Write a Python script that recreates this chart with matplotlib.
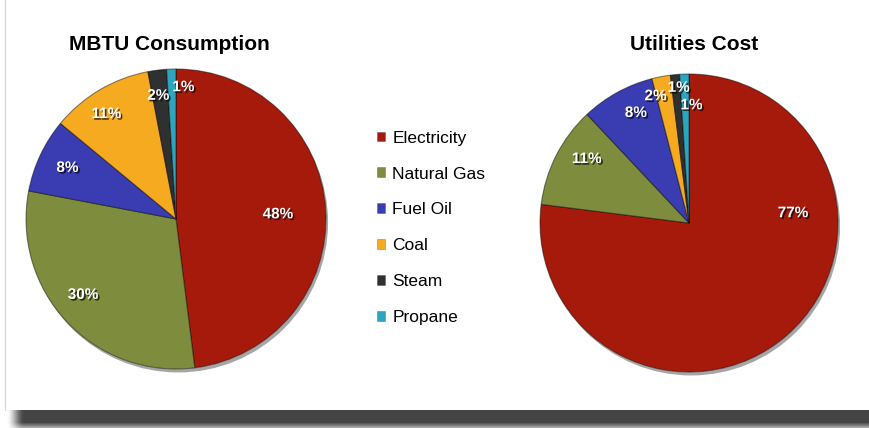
import matplotlib.pyplot as plt
import matplotlib.patheffects as pe
from matplotlib.patches import Circle
import numpy as np

plt.rcParams['font.family'] = ['Liberation Sans', 'DejaVu Sans']

# data
sources = ['Electricity', 'Natural Gas', 'Fuel Oil', 'Coal', 'Steam', 'Propane']
mbtu_pct = [48, 30, 8, 11, 2, 1]
cost_pct = [77, 11, 8, 2, 1, 1]
colors = ['#A51A0B', '#7E8D3D', '#3A3CB2', '#F6AA20', '#303030', '#2CA6BE']

# where each percentage label sits (fraction of radius) and how far it is
# turned away from the wedge middle, in degrees
mbtu_label_r = [0.68, 0.80, 0.80, 0.84, 0.83, 0.88]
mbtu_label_turn = [-1, -4, 0, 3, 1, -5]
cost_label_r = [0.70, 0.81, 0.82, 0.88, 0.91, 0.79]
cost_label_turn = [54, -5, -3, 4, -1, -3]

W, H = 870, 428
LIM = 1.04
fig = plt.figure(figsize=(W / 100, H / 100), dpi=100)

# page background with the dark strip along the bottom
bg = fig.add_axes([0, 0, 1, 1])
bg.set_xlim(0, W)
bg.set_ylim(H, 0)
bg.axis('off')
bg.plot([5.5, 5.5], [0, 410], color='#d8d8d8', lw=1)

xs = np.arange(W)
ys = np.arange(410, H)
fx = np.clip((xs - 6) / 18.0, 0, 1)
fx = fx * fx * (3 - 2 * fx)
fy = np.where(ys < 422, 1.0, 1.0 - (ys - 422) / 6.0 * 0.65)
strip = np.zeros((len(ys), W, 4))
strip[..., :3] = 0x44 / 255
strip[..., 3] = fy[:, None] * fx[None, :]
bg.imshow(strip, extent=(0, W, H, 410), aspect='auto', interpolation='bilinear', zorder=0)

label_fx = [pe.withSimplePatchShadow(offset=(1.2, -1.2), shadow_rgbFace='black', alpha=0.7)]


def draw_pie(cx, cy, r, values, label_r, label_turn, title, title_x):
    half = r * LIM
    ax = fig.add_axes([(cx - half) / W, (H - cy - half) / H, 2 * half / W, 2 * half / H])
    # soft shadow under the whole disc
    disc = Circle((0, 0), 1.0, facecolor='white', edgecolor='none', zorder=0,
                  path_effects=[pe.withSimplePatchShadow(offset=(1.5, -2.5), shadow_rgbFace='black', alpha=0.35)])
    ax.add_patch(disc)
    wedges, _ = ax.pie(values, colors=colors, startangle=90, counterclock=False,
                       radius=1.0, wedgeprops=dict(edgecolor=(0, 0, 0, 0.45), linewidth=0.8))
    ax.set_xlim(-LIM, LIM)
    ax.set_ylim(-LIM, LIM)
    ax.set_aspect('equal')
    ax.axis('off')
    for w, v, rr, turn in zip(wedges, values, label_r, label_turn):
        mid = np.deg2rad((w.theta1 + w.theta2) / 2 + turn)
        ax.text(rr * np.cos(mid), rr * np.sin(mid), f'{v}%', color='white', fontsize=11,
                fontweight='bold', ha='center', va='center', path_effects=label_fx)
    fig.text(title_x / W, 1 - 45 / H, title, fontsize=15, fontweight='bold',
             ha='center', va='center')
    return wedges


left_wedges = draw_pie(176, 219, 150, mbtu_pct, mbtu_label_r, mbtu_label_turn,
                       'MBTU Consumption', 169)
draw_pie(689, 223, 149, cost_pct, cost_label_r, cost_label_turn,
         'Utilities Cost', 694)

leg = fig.legend(left_wedges, sources, loc='upper left',
                 bbox_to_anchor=(368 / W, 1 - 122 / H), frameon=False,
                 fontsize=12.5, handlelength=0.5, handleheight=0.5,
                 handletextpad=0.4, labelspacing=1.2, borderpad=0)
for h in leg.legend_handles:
    h.set_edgecolor((0, 0, 0, 0.3))
    h.set_linewidth(0.5)

plt.savefig('out.png', dpi=100)
